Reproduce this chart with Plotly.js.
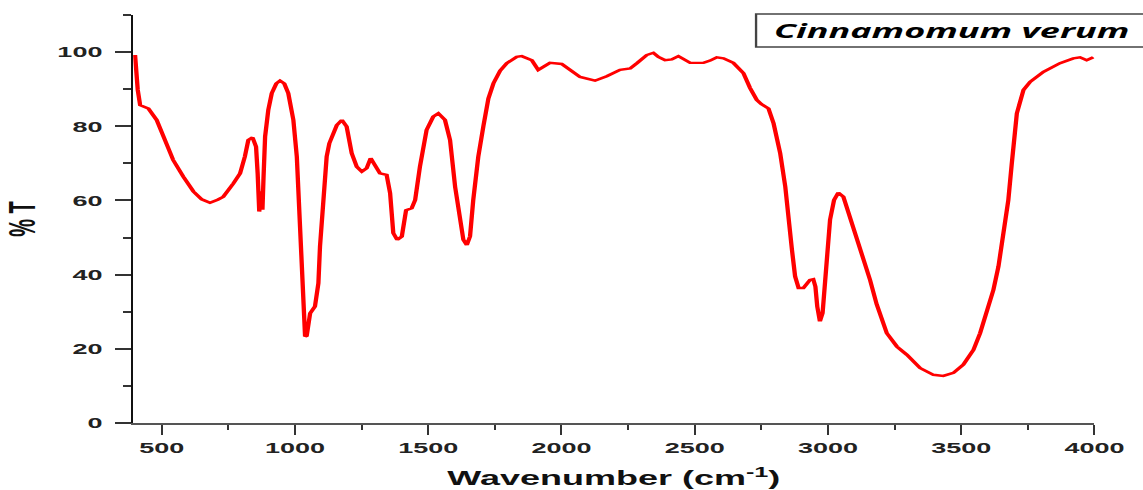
<!DOCTYPE html>
<html><head><meta charset="utf-8">
<script src="https://cdn.plot.ly/plotly-3.0.1.min.js"></script>
<style>
html,body{margin:0;padding:0;overflow:hidden;background:#fff;width:1143px;height:490px}
#chart{width:635px;height:490px;transform:scaleX(1.8);transform-origin:0 0}
</style></head><body><div id="chart"></div>
<script>
const wavenumber = [400,403,408,410,419,431,450,481,506,543,581,619,650,681,710,731,769,794,812,825,841,854,860,866,872,878,882,888,900,913,930,944,960,975,994,1007,1019,1029,1038,1044,1050,1057,1075,1088,1094,1104,1113,1119,1129,1138,1157,1176,1194,1213,1232,1251,1269,1284,1300,1319,1344,1357,1369,1384,1401,1417,1438,1451,1469,1494,1519,1538,1563,1582,1601,1620,1632,1645,1657,1669,1688,1707,1726,1745,1770,1795,1832,1851,1889,1913,1930,1957,2001,2032,2070,2126,2170,2220,2258,2283,2320,2345,2364,2389,2414,2439,2458,2483,2533,2558,2583,2608,2645,2671,2683,2708,2733,2750,2777,2796,2821,2840,2852,2865,2877,2890,2908,2933,2945,2953,2960,2970,2980,2989,2998,3008,3023,3039,3058,3083,3108,3133,3158,3183,3221,3259,3296,3346,3396,3433,3471,3508,3546,3571,3596,3621,3640,3658,3677,3690,3700,3709,3734,3759,3809,3871,3921,3946,3971,3996];
const transmittance = [99.2,95.1,94.7,89.8,85.7,85.3,84.8,81.7,77.2,70.9,66.4,62.4,60.3,59.4,60.2,61.0,64.6,67.3,71.8,76.3,77.0,74.5,67.3,57.0,62.5,57.5,66.0,77.2,84.4,88.9,91.5,92.3,91.5,88.9,81.7,71.8,53.0,38.6,23.3,23.5,26.0,29.6,31.4,37.7,47.6,58.3,65.5,71.8,75.4,77.2,80.3,81.7,79.9,72.7,69.1,67.8,68.7,71.4,69.6,67.3,66.9,62.0,51.2,49.4,50.3,57.4,57.9,60.1,69.1,79.0,82.6,83.5,81.7,76.3,63.7,54.8,49.4,48.0,50.3,60.1,71.8,80.0,87.5,91.6,95.0,97.0,98.7,98.9,97.8,95.2,96.0,97.1,96.8,95.2,93.3,92.3,93.5,95.2,95.6,97.0,99.2,99.8,98.7,97.8,98.0,98.9,98.0,97.1,97.1,97.7,98.6,98.3,97.1,95.2,94.3,90.3,87.1,86.0,84.8,80.8,72.7,63.7,53.9,46.7,39.5,36.4,36.4,38.6,38.8,36.8,31.4,27.4,29.6,39.5,47.6,54.8,60.1,62.1,61.0,55.6,50.0,44.0,38.6,32.0,24.2,20.6,18.4,14.8,13.0,12.7,13.5,15.7,19.7,24.2,29.6,35.9,42.2,51.2,60.1,70.0,78.0,83.5,89.8,92.0,94.7,97.0,98.3,98.6,97.8,98.6];
const xTickVals = [500,1000,1500,2000,2500,3000,3500,4000];
const yTickVals = [0,20,40,60,80,100];
const sampleName = 'Cinnamomum verum';
const xTitle = 'Wavenumber (cm<sup>-1</sup>)';
const yTitle = '% T';

const tickFont = {family: 'Liberation Sans, Arial, sans-serif', size: 15, weight: 'bold', color: '#222'};
const titleFont = {family: 'Liberation Sans, Arial, sans-serif', size: 20, weight: 'bold', color: '#111'};

const trace = {
  x: wavenumber, y: transmittance, type: 'scatter', mode: 'lines',
  line: {color: '#ff0000', width: 2.4}, hoverinfo: 'skip', showlegend: false
};

const layout = {
  width: 635, height: 490,
  margin: {l: 74, r: 27, t: 15, b: 67},
  paper_bgcolor: '#ffffff', plot_bgcolor: '#ffffff',
  showlegend: false,
  xaxis: {
    range: [393, 4000], tickvals: xTickVals, ticktext: xTickVals.map(String),
    ticks: 'outside', ticklen: 10, tickwidth: 1.1, tickcolor: '#333',
    minor: {dtick: 250, tick0: 0, ticks: 'outside', ticklen: 5, tickwidth: 1.1, tickcolor: '#333'},
    showline: true, linecolor: '#555', linewidth: 2, showgrid: false, zeroline: false,
    tickfont: tickFont, title: {text: xTitle, font: titleFont, standoff: 16}
  },
  yaxis: {
    range: [0, 110], tickvals: yTickVals, ticktext: yTickVals.map(String),
    ticks: 'outside', ticklen: 9, tickwidth: 2, tickcolor: '#333',
    minor: {dtick: 10, tick0: 0, ticks: 'outside', ticklen: 4.5, tickwidth: 2, tickcolor: '#333'},
    showline: true, linecolor: '#111', linewidth: 1.1, showgrid: false, zeroline: false,
    ticklabelstandoff: 4,
    tickfont: tickFont, title: {text: yTitle, font: titleFont, standoff: 6}
  },
  shapes: [{
    type: 'rect', xref: 'paper', yref: 'paper', x0: 0.648, x1: 1.06, y0: 0.9216, y1: 1.0025,
    line: {color: '#444', width: 1.3}, fillcolor: 'rgba(0,0,0,0)', layer: 'above'
  }],
  annotations: [{
    text: sampleName, xref: 'paper', yref: 'paper', x: 0.6626, y: 0.962,
    xanchor: 'left', yanchor: 'middle', showarrow: false,
    font: {family: 'Open Sans, sans-serif', size: 20, style: 'italic', weight: 'bold', color: '#000'}
  }]
};

Plotly.newPlot('chart', [trace], layout, {staticPlot: true, displayModeBar: false});
</script></body></html>
